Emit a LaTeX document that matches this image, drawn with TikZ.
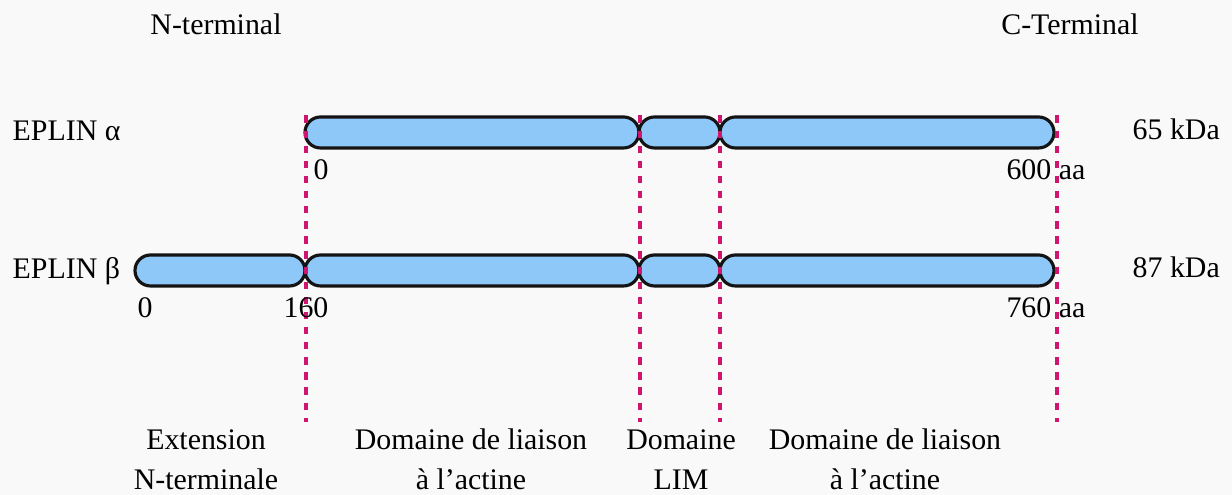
\documentclass[tikz,border=0pt]{standalone}
\usepackage{fontspec}
\setmainfont{Liberation Serif}
\usetikzlibrary{positioning}
\definecolor{eplinBack}{HTML}{F9F9F9}
\definecolor{eplinBar}{HTML}{8EC8F8}
\definecolor{eplinLine}{HTML}{141414}
\definecolor{eplinGuide}{HTML}{D0156E}
\tikzset{
  eplinfig/.style={
    every node/.append style={font=\fontsize{8.5}{10.5}\selectfont, text=black},
  },
  barseg/.style={
    draw=eplinLine, line width=0.9pt, fill=eplinBar, rounded corners=1.55mm,
    minimum height=3.1mm, inner sep=0pt,
  },
  % Grenzen der Domaenen: gestrichelte Hilfslinien ueber beide Isoformen.
  guide/.style={draw=eplinGuide, line width=0.9pt, dash pattern=on 2.1pt off 2.2pt},
  rowlabel/.style={anchor=base west, inner sep=0pt},
  aalabel/.style={inner sep=0pt},
  domlabel/.style={anchor=base, align=center, inner sep=0pt},
}
\begin{document}
\begin{tikzpicture}[eplinfig]
  \useasboundingbox[fill=eplinBack] (0,0) rectangle (12.32,-4.95);
  % EPLIN alpha
  \node[barseg, minimum width=33.4mm] (AlphaActinA) at (4.72,-1.325) {};
  \node[barseg, minimum width=8.1mm] (AlphaLim) at (6.795,-1.325) {};
  \node[barseg, minimum width=33.4mm] (AlphaActinB) at (8.87,-1.325) {};
  % EPLIN beta
  \node[barseg, minimum width=17.0mm] (BetaExt) at (2.20,-2.705) {};
  \node[barseg, minimum width=33.4mm] (BetaActinA) at (4.72,-2.705) {};
  \node[barseg, minimum width=8.1mm] (BetaLim) at (6.795,-2.705) {};
  \node[barseg, minimum width=33.4mm] (BetaActinB) at (8.87,-2.705) {};
  \coordinate (GuideEndA) at (3.06,-4.22);
  \coordinate (GuideEndB) at (6.40,-4.22);
  \coordinate (GuideEndC) at (7.20,-4.22);
  \coordinate (GuideEndD) at (10.57,-4.22);
  \draw[guide] (GuideEndA |- AlphaActinA.north) -- (GuideEndA);
  \draw[guide] (GuideEndB |- AlphaActinA.north) -- (GuideEndB);
  \draw[guide] (GuideEndC |- AlphaActinA.north) -- (GuideEndC);
  \draw[guide] (GuideEndD |- AlphaActinA.north) -- (GuideEndD);
  \node[anchor=base, inner sep=0pt] (NTerm) at (2.16,-0.35) {N-terminal};
  \node[anchor=base, inner sep=0pt] (CTerm) at (10.70,-0.35) {C-Terminal};
  \node[rowlabel] (AlphaName) at (0.12,-1.41) {EPLIN α};
  \node[rowlabel] (BetaName) at (0.12,-2.79) {EPLIN β};
  \node[rowlabel] (AlphaMass) at (11.32,-1.40) {65 kDa};
  \node[rowlabel] (BetaMass) at (11.32,-2.78) {87 kDa};
  \node[aalabel, anchor=base west] (AlphaStart) at (3.13,-1.80) {0};
  \node[aalabel, anchor=base east] (AlphaEnd) at (10.86,-1.80) {600 aa};
  \node[aalabel, anchor=base west] (BetaStart) at (1.37,-3.18) {0};
  \node[aalabel, anchor=base] (BetaSplit) at (3.06,-3.18) {160};
  \node[aalabel, anchor=base east] (BetaEnd) at (10.86,-3.18) {760 aa};
  % base = Grundlinie der zweiten Zeile
  \node[domlabel] (ExtLabel) at (2.06,-4.90) {Extension\\[1pt]N-terminale};
  \node[domlabel] (ActinLabelA) at (4.71,-4.90) {Domaine de liaison\\[1pt]à l’actine};
  \node[domlabel] (LimLabel) at (6.81,-4.90) {Domaine\\[1pt]LIM};
  \node[domlabel] (ActinLabelB) at (8.85,-4.90) {Domaine de liaison\\[1pt]à l’actine};
\end{tikzpicture}
\end{document}
